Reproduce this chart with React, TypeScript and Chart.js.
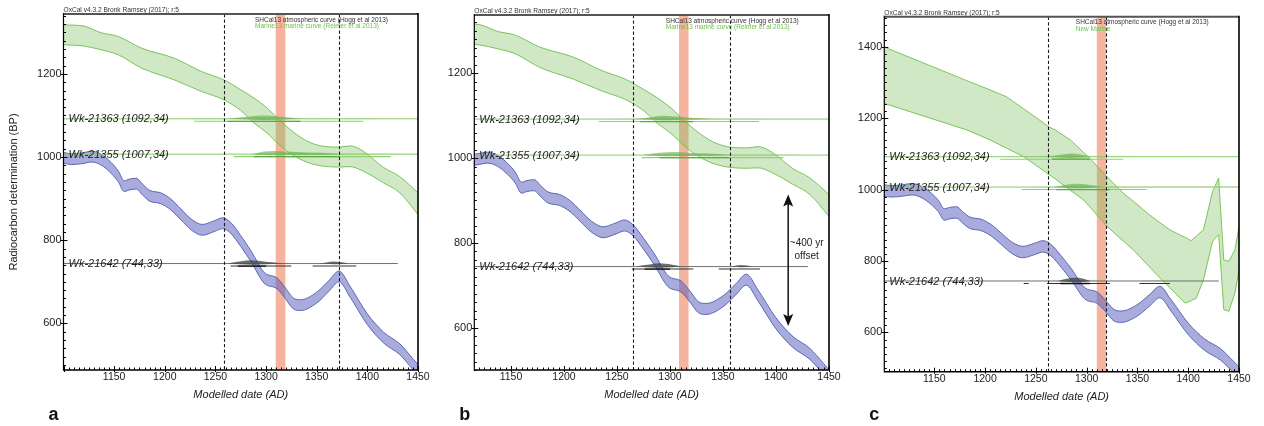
import React, { useEffect, useRef } from 'react';
import { Chart, registerables } from 'chart.js';

Chart.register(...registerables);

const FONT = '"Liberation Sans", Arial, Helvetica, sans-serif';

// ---- SHCal13 atmospheric curve: centre values (BP) ----
const atmYears = [1100, 1108, 1118, 1128, 1137, 1147, 1154, 1160, 1165, 1172, 1178, 1185, 1196, 1206, 1216, 1226, 1237, 1249, 1257, 1265, 1275, 1285, 1298, 1311, 1318, 1327, 1334, 1350, 1362, 1372, 1383, 1400, 1416, 1432, 1445, 1450];
const atmMid = [998, 995, 997, 1001, 994, 974, 954, 930, 934, 936, 922, 907, 901, 886, 862, 838, 825, 834, 841, 830, 798, 762, 710, 696, 676, 648, 644, 662, 690, 713, 676, 610, 566, 538, 502, 488];
const atmSigmaAB = 13;
const atmSigmaC = 16;

// ---- Marine13 marine curve (panels a, b) ----
const marYears = [1100, 1120, 1137, 1154, 1177, 1209, 1236, 1258, 1275, 1288, 1301, 1314, 1327, 1340, 1354, 1373, 1383, 1396, 1416, 1432, 1450];
const marUpper = [1318, 1315, 1299, 1290, 1262, 1238, 1206, 1186, 1162, 1142, 1118, 1087, 1060, 1039, 1027, 1024, 1027, 1014, 975, 953, 914];
const marLower = [1270, 1267, 1258, 1246, 1214, 1186, 1158, 1138, 1112, 1082, 1058, 1027, 1004, 988, 979, 976, 977, 966, 938, 914, 862];

// ---- New Marine curve (panel c) ----
const nmYears = [1100, 1182, 1205, 1221, 1238, 1251, 1262, 1269, 1277, 1284, 1297, 1303, 1320, 1336, 1346, 1362, 1369, 1382, 1397, 1403, 1408, 1415, 1424, 1430, 1435, 1440, 1446, 1450];
const nmUpper = [1400, 1305, 1279, 1260, 1226, 1200, 1177, 1167, 1152, 1139, 1104, 1088, 1036, 990, 967, 929, 914, 887, 866, 857, 870, 887, 995, 1032, 803, 799, 831, 897];
const nmLower = [1242, 1167, 1139, 1116, 1092, 1066, 1044, 1030, 1013, 998, 971, 952, 897, 856, 831, 783, 762, 725, 682, 689, 696, 747, 855, 874, 664, 659, 710, 775];

// ---- tick labels ----
const xTickValues = [1150, 1200, 1250, 1300, 1350, 1400, 1450];
const yTickValuesAB = [600, 800, 1000, 1200];
const yTickValuesC = [600, 800, 1000, 1200, 1400];

// ---- samples ----
const sampleNames = ['Wk-21363 (1092,34)', 'Wk-21355 (1007,34)', 'Wk-21642 (744,33)'];
const sampleBP = [1092, 1007, 744];
const sampleLineEnd = [1450, 1450, 1430];

// ---- boundaries (dashed) and event (orange band) ----
const dashedA = [1258, 1372];
const dashedB = [1265, 1357];
const dashedC = [1262, 1319];
const eventA = [1309.5, 1319];
const eventB = [1308.5, 1317.5];
const eventC = [1310, 1319];

// ---- offset arrow (panel b): year, top BP, bottom BP ----
const arrowB = [1411.5, 914, 604];
const arrowText = ['~400 yr', 'offset'];

// ---- distributions [year, relative density] and ranges [from, to] ----
const aSmear1092 = [[1222, 0], [1245, 0.3], [1275, 0.45], [1300, 0.5], [1330, 0.45], [1360, 0.35], [1395, 0.2], [1420, 0]];
const aHump1092 = [[1262, 0], [1280, 0.55], [1296, 1], [1312, 0.75], [1334, 0]];
const aBar1092 = [[1229, 1396]];
const aDark1092 = [[1262, 1334]];
const aSmear1007 = [[1282, 0], [1300, 0.4], [1330, 0.45], [1370, 0.4], [1410, 0.3], [1450, 0.15]];
const aHump1007 = [[1286, 0], [1298, 0.8], [1308, 1], [1330, 0.65], [1355, 0.4], [1374, 0]];
const aBar1007 = [[1268, 1423]];
const aDark1007 = [[1288, 1373]];
const aSmear744 = [[1258, 0], [1275, 0.5], [1300, 0.45], [1325, 0.15], [1345, 0.2], [1368, 0.35], [1392, 0]];
const aHump744 = [[1262, 0], [1275, 0.7], [1285, 1], [1300, 0.55], [1322, 0], [1352, 0], [1367, 0.6], [1382, 0]];
const aBar744 = [[1265, 1325], [1346, 1389]];
const aDark744 = [[1272, 1300]];

const bSmear1092 = [[1238, 0], [1265, 0.35], [1293, 0.5], [1330, 0.4], [1370, 0.25], [1400, 0]];
const bHump1092 = [[1268, 0], [1282, 0.6], [1293, 1], [1305, 0.8], [1322, 0.3], [1340, 0]];
const bBar1092 = [[1233, 1384]];
const bDark1092 = [[1272, 1322]];
const bSmear1007 = [[1272, 0], [1290, 0.4], [1320, 0.45], [1360, 0.35], [1400, 0.25], [1425, 0]];
const bHump1007 = [[1274, 0], [1290, 0.7], [1305, 1], [1325, 0.6], [1345, 0.35], [1358, 0]];
const bBar1007 = [[1273, 1407]];
const bDark1007 = [[1290, 1356]];
const bSmear744 = [[1262, 0], [1280, 0.5], [1300, 0.4], [1322, 0], [1348, 0], [1366, 0.35], [1386, 0]];
const bHump744 = [[1268, 0], [1282, 0.7], [1290, 1], [1302, 0.6], [1315, 0], [1356, 0], [1367, 0.5], [1378, 0]];
const bBar744 = [[1264, 1322], [1346, 1385]];
const bDark744 = [[1276, 1300]];

const cSmear1092 = [[1172, 0], [1215, 0.25], [1260, 0.4], [1300, 0.4], [1350, 0.3], [1400, 0.2], [1431, 0]];
const cHump1092 = [[1262, 0], [1274, 0.6], [1284, 1], [1294, 0.7], [1304, 0]];
const cBar1092 = [[1215, 1336]];
const cDark1092 = [[1266, 1303]];
const cSmear1007 = [[1240, 0], [1265, 0.35], [1295, 0.45], [1330, 0.35], [1380, 0.25], [1420, 0.2], [1450, 0.15]];
const cHump1007 = [[1268, 0], [1280, 0.7], [1290, 1], [1302, 0.7], [1316, 0]];
const cBar1007 = [[1236, 1359]];
const cDark1007 = [[1270, 1323]];
const cSmear744 = [[1258, 0], [1272, 0.4], [1290, 0.45], [1315, 0.3], [1325, 0], [1350, 0], [1362, 0.35], [1385, 0]];
const cHump744 = [[1272, 0], [1280, 0.7], [1288, 1], [1296, 0.8], [1304, 0]];
const cBar744 = [[1238, 1243], [1261, 1323], [1352, 1382]];
const cDark744 = [[1274, 1303]];

const titleText = 'OxCal v4.3.2 Bronk Ramsey (2017); r:5';
const legendAtm = 'SHCal13 atmospheric curve (Hogg et al 2013)';

// ---- panel layout ----
const panels: any[] = [
  {
    letter: 'a', left: 0, width: 445, axisW: 63.5, rightPad: 27, top: 14, bottom: 370,
    xMin: 1100, xMax: 1450, yMin: 488, yMax: 1344, yTicks: yTickValuesAB, sigma: atmSigmaAB,
    newMarine: false, dashed: dashedA, event: eventA, legendMarine: 'Marine13 marine curve (Reimer et al 2013)',
    yTitle: true, xTitleBottom: 24.4, arrow: null,
    smears: [aSmear1092, aSmear1007, aSmear744], humps: [aHump1092, aHump1007, aHump744],
    bars: [aBar1092, aBar1007, aBar744], darkBars: [aDark1092, aDark1007, aDark744],
  },
  {
    letter: 'b', left: 420, width: 435, axisW: 54.3, rightPad: 26, top: 15, bottom: 370,
    xMin: 1115.4, xMax: 1450, yMin: 500, yMax: 1337.5, yTicks: yTickValuesAB, sigma: atmSigmaAB,
    newMarine: false, dashed: dashedB, event: eventB, legendMarine: 'Marine13 marine curve (Reimer et al 2013)',
    yTitle: false, xTitleBottom: 24.4, arrow: arrowB,
    smears: [bSmear1092, bSmear1007, bSmear744], humps: [bHump1092, bHump1007, bHump744],
    bars: [bBar1092, bBar1007, bBar744], darkBars: [bDark1092, bDark1007, bDark744],
  },
  {
    letter: 'c', left: 840, width: 424, axisW: 44.3, rightPad: 25, top: 16.7, bottom: 371.7,
    xMin: 1100.8, xMax: 1450, yMin: 490, yMax: 1484, yTicks: yTickValuesC, sigma: atmSigmaC,
    newMarine: true, dashed: dashedC, event: eventC, legendMarine: 'New Marine',
    yTitle: false, xTitleBottom: 22.1, arrow: null,
    smears: [cSmear1092, cSmear1007, cSmear744], humps: [cHump1092, cHump1007, cHump744],
    bars: [cBar1092, cBar1007, cBar744], darkBars: [cDark1092, cDark1007, cDark744],
  },
];

function segmentsDs(pairs: number[][], y: number, color: string, width: number) {
  const data: any[] = [];
  pairs.forEach(([a, b]) => {
    data.push({ x: a, y }, { x: b, y }, { x: b, y: null });
  });
  return { data, borderColor: color, borderWidth: width, pointRadius: 0, fill: false, spanGaps: false, tension: 0 };
}

function halfSpindle(pairs: number[][], bp: number, h: number, color: string) {
  return {
    data: pairs.map(([x, d]) => ({ x, y: bp + d * h })),
    fill: { value: bp },
    backgroundColor: color,
    borderColor: 'transparent',
    borderWidth: 0,
    pointRadius: 0,
    cubicInterpolationMode: 'monotone',
  };
}

function curveDs(years: number[], vals: number[], stroke: string, fillColor: string | null, smooth: boolean) {
  return {
    data: years.map((x, i) => ({ x, y: vals[i] })),
    borderColor: stroke,
    borderWidth: 0.9,
    pointRadius: 0,
    fill: fillColor ? '-1' : false,
    backgroundColor: fillColor || 'transparent',
    cubicInterpolationMode: smooth ? 'monotone' : 'default',
    tension: 0,
  };
}

function makeDecor(p: any) {
  return {
    id: 'decor',
    beforeDatasetsDraw(chart: any) {
      const { ctx, chartArea: ca, scales } = chart;
      const xs = scales.x;
      ctx.save();
      const x0 = xs.getPixelForValue(p.event[0]);
      const x1 = xs.getPixelForValue(p.event[1]);
      ctx.fillStyle = 'rgb(246,180,158)';
      ctx.fillRect(x0, ca.top, x1 - x0, ca.bottom - ca.top);
      ctx.restore();
    },
    afterDatasetsDraw(chart: any) {
      const { ctx, chartArea: ca, scales } = chart;
      const xs = scales.x;
      const ys = scales.y;
      ctx.save();
      // dashed boundaries
      ctx.strokeStyle = '#1a1a1a';
      ctx.lineWidth = 1.1;
      ctx.setLineDash([3.3, 2.2]);
      p.dashed.forEach((d: number) => {
        const px = Math.round(xs.getPixelForValue(d)) + 0.5;
        ctx.beginPath();
        ctx.moveTo(px, ca.top);
        ctx.lineTo(px, ca.bottom);
        ctx.stroke();
      });
      ctx.setLineDash([]);

      // sample labels
      ctx.font = `italic 11px ${FONT}`;
      ctx.fillStyle = '#1e1e1e';
      ctx.textBaseline = 'middle';
      ctx.textAlign = 'left';
      sampleNames.forEach((n, i) => {
        ctx.fillText(n, ca.left + 5, ys.getPixelForValue(sampleBP[i]) + 0.5);
      });

      // legend
      ctx.font = `6.5px ${FONT}`;
      ctx.fillStyle = '#333';
      ctx.fillText(legendAtm, ca.left + 191.5, ca.top + 5.8);
      ctx.fillStyle = '#6cc04a';
      ctx.fillText(p.legendMarine, ca.left + 191.5, ca.top + 12.5);

      // title
      ctx.font = `6.6px ${FONT}`;
      ctx.fillStyle = '#333';
      ctx.textBaseline = 'alphabetic';
      ctx.fillText(titleText, ca.left, ca.top - 2);

      // arrow
      if (p.arrow) {
        const ax = xs.getPixelForValue(p.arrow[0]);
        const yT = ys.getPixelForValue(p.arrow[1]);
        const yB = ys.getPixelForValue(p.arrow[2]);
        ctx.strokeStyle = '#111';
        ctx.fillStyle = '#111';
        ctx.lineWidth = 1.5;
        ctx.beginPath();
        ctx.moveTo(ax, yT + 8);
        ctx.lineTo(ax, yB - 8);
        ctx.stroke();
        ctx.beginPath();
        ctx.moveTo(ax, yT);
        ctx.lineTo(ax - 5, yT + 12);
        ctx.lineTo(ax, yT + 9.5);
        ctx.lineTo(ax + 5, yT + 12);
        ctx.closePath();
        ctx.fill();
        ctx.beginPath();
        ctx.moveTo(ax, yB);
        ctx.lineTo(ax - 5, yB - 12);
        ctx.lineTo(ax, yB - 9.5);
        ctx.lineTo(ax + 5, yB - 12);
        ctx.closePath();
        ctx.fill();
        const mid = (yT + yB) / 2;
        ctx.font = `10px ${FONT}`;
        ctx.fillStyle = '#222';
        ctx.textAlign = 'center';
        ctx.textBaseline = 'middle';
        ctx.fillText(arrowText[0], ax + 18.5, mid - 16.9);
        ctx.fillText(arrowText[1], ax + 18.5, mid - 4.2);
        ctx.textAlign = 'left';
      }

      // minor / major ticks
      ctx.strokeStyle = '#000';
      ctx.lineWidth = 1;
      for (let v = Math.ceil(xs.min / 5) * 5; v <= xs.max + 0.01; v += 5) {
        const px = Math.round(xs.getPixelForValue(v)) + 0.5;
        const major = v % 50 === 0;
        ctx.beginPath();
        ctx.moveTo(px, ca.bottom + (major ? 2 : 0));
        ctx.lineTo(px, ca.bottom - (major ? 4 : 2.5));
        ctx.stroke();
      }
      for (let v = Math.ceil(ys.min / 20) * 20; v <= ys.max + 0.01; v += 20) {
        const py = Math.round(ys.getPixelForValue(v)) + 0.5;
        const major = v % 200 === 0;
        ctx.beginPath();
        ctx.moveTo(ca.left - (major ? 2.5 : 0), py);
        ctx.lineTo(ca.left + (major ? 4 : 2.5), py);
        ctx.stroke();
      }

      // frame
      ctx.strokeStyle = '#555';
      ctx.lineWidth = 2;
      ctx.beginPath();
      ctx.moveTo(ca.left, ca.top);
      ctx.lineTo(ca.right, ca.top);
      ctx.stroke();
      ctx.strokeStyle = '#000';
      ctx.lineWidth = 1.6;
      ctx.beginPath();
      ctx.moveTo(ca.right, ca.top - 1);
      ctx.lineTo(ca.right, ca.bottom);
      ctx.lineTo(ca.left, ca.bottom);
      ctx.stroke();
      ctx.lineWidth = 1.2;
      ctx.beginPath();
      ctx.moveTo(ca.left, ca.top - 1);
      ctx.lineTo(ca.left, ca.bottom + 0.8);
      ctx.stroke();

      // panel letter
      ctx.font = `bold 18px ${FONT}`;
      ctx.fillStyle = '#111';
      ctx.textBaseline = 'alphabetic';
      ctx.fillText(p.letter, ca.left - 15, 419.5);
      ctx.restore();
    },
  };
}

function buildConfig(p: any): any {
  const pxPerBP = (p.bottom - p.top) / (p.yMax - p.yMin);
  const up = 3.2 / pxPerBP;
  const down = 1.2 / pxPerBP;
  const barOff = 2.5 / pxPerBP;
  const datasets: any[] = [];
  sampleBP.forEach((bp, i) => {
    const green = i < 2;
    datasets.push(segmentsDs(p.darkBars[i], bp - barOff, green ? '#5aab3e' : '#111', 1.3));
    datasets.push(segmentsDs(p.bars[i], bp - barOff, green ? '#8fd072' : '#333', 1.1));
    const humpColor = green ? 'rgba(95,170,70,0.6)' : 'rgba(55,55,55,0.7)';
    const smearColor = green ? 'rgba(150,210,120,0.4)' : 'rgba(150,150,150,0.4)';
    datasets.push(halfSpindle(p.humps[i], bp, up, humpColor));
    datasets.push(halfSpindle(p.humps[i], bp, -down, humpColor));
    datasets.push(halfSpindle(p.smears[i], bp, up * 0.8, smearColor));
    datasets.push(halfSpindle(p.smears[i], bp, -down, smearColor));
    datasets.push({
      data: [{ x: p.xMin, y: bp }, { x: sampleLineEnd[i], y: bp }],
      borderColor: green ? '#88cb68' : '#707070',
      borderWidth: 1,
      pointRadius: 0,
      fill: false,
    });
  });
  const s = p.sigma;
  datasets.push(curveDs(atmYears, atmMid.map((v) => v + s), '#4d5db2', null, true));
  datasets.push(curveDs(atmYears, atmMid.map((v) => v - s), '#4d5db2', 'rgba(81,87,183,0.5)', true));
  const my = p.newMarine ? nmYears : marYears;
  const mu = p.newMarine ? nmUpper : marUpper;
  const ml = p.newMarine ? nmLower : marLower;
  datasets.push(curveDs(my, mu, '#6dbf4b', null, !p.newMarine));
  datasets.push(curveDs(my, ml, '#6dbf4b', 'rgba(120,190,90,0.35)', !p.newMarine));

  return {
    type: 'line',
    data: { datasets },
    options: {
      responsive: false,
      animation: false,
      events: [],
      layout: { padding: { left: 0, right: p.rightPad, top: p.top, bottom: 0 } },
      plugins: { legend: { display: false }, tooltip: { enabled: false }, title: { display: false } },
      elements: { point: { radius: 0 } },
      scales: {
        x: {
          type: 'linear',
          min: p.xMin,
          max: p.xMax,
          afterBuildTicks: (sc: any) => { sc.ticks = xTickValues.map((v) => ({ value: v })); },
          afterFit: (sc: any) => { sc.height = 426 - p.bottom; },
          grid: { display: false, drawTicks: false },
          border: { display: false },
          ticks: {
            autoSkip: false, maxRotation: 0, padding: 1, color: '#222',
            font: { family: FONT, size: 10.5 },
            callback: (v: any) => String(v),
          },
          title: {
            display: true, text: 'Modelled date (AD)', color: '#222',
            font: { family: FONT, size: 11, style: 'italic' },
            padding: { top: 0, bottom: p.xTitleBottom },
          },
        },
        y: {
          type: 'linear',
          min: p.yMin,
          max: p.yMax,
          afterBuildTicks: (sc: any) => { sc.ticks = p.yTicks.map((v: number) => ({ value: v })); },
          afterFit: (sc: any) => { sc.width = p.axisW; },
          grid: { display: false, drawTicks: false },
          border: { display: false },
          ticks: {
            padding: 2, color: '#222',
            font: { family: FONT, size: 11 },
            callback: (v: any) => String(v),
          },
          title: {
            display: p.yTitle, text: 'Radiocarbon determination (BP)', color: '#222',
            font: { family: FONT, size: 11 },
            padding: { top: 7.4, bottom: 0 },
          },
        },
      },
    },
    plugins: [makeDecor(p)],
  };
}

export default function App() {
  const r0 = useRef<HTMLCanvasElement | null>(null);
  const r1 = useRef<HTMLCanvasElement | null>(null);
  const r2 = useRef<HTMLCanvasElement | null>(null);
  const refs = [r0, r1, r2];
  useEffect(() => {
    const charts = panels.map((p, i) => new Chart(refs[i].current as HTMLCanvasElement, buildConfig(p)));
    return () => charts.forEach((c) => c.destroy());
  }, []);
  return (
    <div style={{ position: 'fixed', left: 0, top: 0, width: 1264, height: 426, background: '#fff', overflow: 'hidden' }}>
      {panels.map((p, i) => (
        <canvas
          key={p.letter}
          ref={refs[i]}
          width={p.width}
          height={426}
          style={{ position: 'absolute', left: p.left, top: 0, width: p.width, height: 426 }}
        />
      ))}
    </div>
  );
}
